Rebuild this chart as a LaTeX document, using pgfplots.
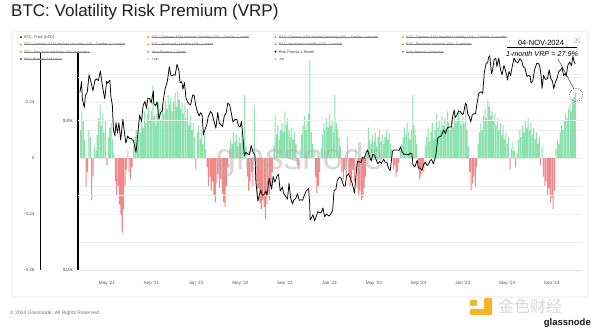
\documentclass[border=0pt]{standalone}
\usepackage{pgfplots}
\pgfplotsset{compat=1.18}
\usepackage{pgfplotstable}
\usepackage{fontspec}
\setmainfont{Liberation Sans}
\newfontfamily\cjk{Noto Sans CJK SC}
\definecolor{vgreen}{RGB}{120,222,160}
\definecolor{vred}{RGB}{238,118,118}
\definecolor{lorange}{RGB}{236,142,48}
\definecolor{lteal}{RGB}{38,166,180}
\definecolor{lmag}{RGB}{140,30,78}
\definecolor{lpos}{RGB}{150,232,185}
\definecolor{lneg}{RGB}{245,160,165}
\definecolor{jyellow}{RGB}{242,180,40}
\newlength\lgw
\newcommand{\lgon}[1]{\makebox[118pt][l]{\rule[-1.5pt]{0pt}{5.8pt}\textcolor{black!75}{#1}}}
\newcommand{\lgoff}[1]{\settowidth{\lgw}{#1}\makebox[118pt][l]{\rule[-1.5pt]{0pt}{5.8pt}\textcolor{black!50}{\rlap{\rule[1.25pt]{\lgw}{0.25pt}}#1}}}
\pgfplotsset{legdot/.style={legend image code/.code={\fill (1.1pt,0pt) circle (1.1pt);}, fill=#1, draw=none}}

\pgfplotstableread{
m v
1.625 0.12
1.75 0.20
1.875 0.16
2.0 0.08
2.125 -0.12
2.25 -0.06
2.375 0.12
2.5 0.09
2.625 -0.18
2.75 -0.08
2.875 0.05
3.0 0.03
3.125 0.10
3.25 0.17
3.375 0.23
3.5 0.14
3.625 0.19
3.75 0.11
3.875 0.16
4.0 -0.03
4.125 0.09
4.25 0.13
4.375 0.15
4.5 0.08
4.625 0.02
4.75 -0.10
4.875 -0.16
5.0 -0.12
5.125 -0.20
5.25 -0.24
5.375 -0.32
5.5 -0.22
5.625 -0.12
5.75 -0.05
5.875 0.03
6.0 -0.06
6.125 -0.09
6.25 -0.04
6.375 0.05
6.5 0.09
6.625 0.12
6.75 0.08
6.875 0.15
7.0 0.11
7.125 0.17
7.25 0.13
7.375 0.20
7.5 0.15
7.625 0.19
7.75 0.22
7.875 0.16
8.0 0.20
8.125 0.31
8.25 0.18
8.375 0.14
8.5 0.19
8.625 0.24
8.75 0.21
8.875 0.16
9.0 0.23
9.125 0.19
9.25 0.25
9.375 0.21
9.5 0.27
9.625 0.23
9.75 0.26
9.875 0.20
10.0 0.24
10.125 0.28
10.25 0.22
10.375 0.29
10.5 0.25
10.625 0.21
10.75 0.24
10.875 0.19
11.0 0.23
11.125 0.17
11.25 0.21
11.375 0.14
11.5 0.18
11.625 0.12
11.75 0.15
11.875 0.09
12.0 -0.05
12.125 0.11
12.25 0.14
12.375 0.08
12.5 0.12
12.625 0.06
12.75 0.10
12.875 0.04
13.0 -0.04
13.125 -0.12
13.25 -0.08
13.375 -0.14
13.5 -0.10
13.625 -0.16
13.75 -0.19
13.875 -0.11
14.0 -0.07
14.125 -0.13
14.25 -0.09
14.375 -0.15
14.5 -0.19
14.625 -0.21
14.75 -0.12
14.875 -0.04
15.0 0.04
15.125 0.08
15.25 0.06
15.375 0.11
15.5 0.07
15.625 0.10
15.75 0.05
15.875 0.09
16.0 0.06
16.125 0.11
16.25 0.08
16.375 0.27
16.5 0.05
16.625 -0.08
16.75 -0.14
16.875 -0.10
17.0 -0.06
17.125 -0.12
17.25 0.22
17.375 -0.10
17.5 -0.16
17.625 -0.13
17.75 -0.19
17.875 -0.22
18.0 -0.18
18.125 -0.21
18.25 -0.26
18.375 -0.20
18.5 -0.15
18.625 -0.18
18.75 -0.12
18.875 -0.06
19.0 0.05
19.125 0.18
19.25 0.10
19.375 0.14
19.5 0.08
19.625 0.12
19.75 0.15
19.875 0.11
20.0 0.20
20.125 0.14
20.25 0.17
20.375 0.12
20.5 0.09
20.625 0.13
20.75 0.08
20.875 0.11
21.0 0.06
21.125 -0.03
21.25 -0.05
21.375 0.04
21.5 0.10
21.625 0.14
21.75 0.18
21.875 0.12
22.0 0.16
22.125 0.19
22.25 0.42
22.375 0.11
22.5 0.06
22.625 0.03
22.75 -0.08
22.875 -0.15
23.0 -0.12
23.125 -0.06
23.25 0.04
23.375 0.10
23.5 0.15
23.625 0.12
23.75 0.17
23.875 0.13
24.0 0.19
24.125 0.14
24.25 0.16
24.375 0.11
24.5 0.27
24.625 0.15
24.75 0.12
24.875 0.09
25.0 0.05
25.125 -0.06
25.25 -0.09
25.375 -0.05
25.5 -0.08
25.625 0.09
25.75 -0.07
25.875 -0.12
26.0 -0.09
26.125 -0.05
26.25 -0.10
26.375 0.04
26.5 -0.13
26.625 -0.16
26.75 -0.14
26.875 -0.18
27.0 -0.17
27.125 -0.13
27.25 -0.08
27.375 0.03
27.5 0.13
27.625 0.08
27.75 0.06
27.875 0.10
28.0 0.07
28.125 0.11
28.25 0.05
28.375 0.09
28.5 0.12
28.625 0.07
28.75 0.10
28.875 0.06
29.0 0.09
29.125 0.12
29.25 0.08
29.375 0.11
29.5 0.06
29.625 0.04
29.75 -0.05
29.875 -0.03
30.0 -0.08
30.125 -0.06
30.25 -0.02
30.375 0.03
30.5 0.06
30.625 0.09
30.75 0.13
30.875 0.10
31.0 0.15
31.125 0.11
31.25 0.08
31.375 0.12
31.5 0.27
31.625 0.14
31.75 0.10
31.875 0.06
32.0 -0.05
32.125 -0.09
32.25 -0.07
32.375 -0.04
32.5 -0.06
32.625 0.05
32.75 0.09
32.875 0.13
33.0 0.07
33.125 0.11
33.25 0.15
33.375 0.08
33.5 0.12
33.625 0.19
33.75 0.13
33.875 0.16
34.0 0.12
34.125 0.18
34.25 0.14
34.375 0.17
34.5 0.13
34.625 0.20
34.75 0.15
34.875 0.12
35.0 0.16
35.125 0.13
35.25 0.19
35.375 0.15
35.5 0.17
35.625 0.21
35.75 0.16
35.875 0.14
36.0 0.18
36.125 0.15
36.25 0.24
36.375 0.12
36.5 0.05
36.625 -0.06
36.75 -0.14
36.875 -0.11
37.0 -0.08
37.125 -0.12
37.25 -0.04
37.375 0.06
37.5 0.11
37.625 0.15
37.75 0.12
37.875 0.18
38.0 0.21
38.125 0.17
38.25 0.25
38.375 0.22
38.5 0.18
38.625 0.20
38.75 0.16
38.875 0.19
39.0 0.14
39.125 0.17
39.25 0.12
39.375 0.15
39.5 0.10
39.625 0.14
39.75 0.08
39.875 0.11
40.0 0.06
40.125 0.09
40.25 -0.05
40.375 0.04
40.5 0.07
40.625 0.03
40.75 -0.04
40.875 0.02
41.0 0.08
41.125 0.12
41.25 0.09
41.375 0.14
41.5 0.11
41.625 0.16
41.75 0.13
41.875 0.17
42.0 0.12
42.125 0.15
42.25 0.10
42.375 0.13
42.5 0.08
42.625 0.11
42.75 0.06
42.875 0.09
43.0 -0.03
43.125 0.05
43.25 -0.08
43.375 -0.12
43.5 -0.10
43.625 -0.16
43.75 -0.13
43.875 -0.19
44.0 -0.17
44.125 -0.22
44.25 -0.14
44.375 0.04
44.5 0.08
44.625 0.06
44.75 0.11
44.875 0.14
45.0 0.12
45.125 0.16
45.25 0.19
45.375 0.17
45.5 0.21
45.625 0.23
45.75 0.20
45.875 0.24
46.0 0.26
46.125 0.279
}\vrpdata

\pgfplotstableread{
m p
1.57 52000
1.71 57500
1.79 48800
1.96 45200
2.06 50500
2.23 52300
2.39 61200
2.55 57600
2.74 52800
2.90 57700
3.03 59000
3.23 58100
3.40 63500
3.57 56200
3.70 51700
3.80 49000
3.97 57700
4.06 56600
4.26 58200
4.35 50000
4.48 46400
4.58 36800
4.71 34700
4.81 39300
4.94 35600
5.07 39200
5.23 33400
5.43 40500
5.57 35800
5.70 32500
5.87 34700
6.03 33800
6.19 33900
6.39 33100
6.61 29800
6.77 35400
6.94 42200
7.10 39700
7.26 46300
7.42 47800
7.55 44800
7.68 49300
7.84 49100
7.97 47100
8.17 52700
8.20 46900
8.37 46000
8.50 47700
8.67 40700
8.83 43200
8.97 43800
9.06 48200
9.23 53900
9.42 57400
9.61 66000
9.74 61000
9.87 60600
9.97 61300
10.13 61000
10.30 67500
10.47 63600
10.57 56900
10.73 57500
10.83 53600
10.97 57000
11.10 49400
11.26 47600
11.39 46700
11.52 46200
11.71 50800
11.84 50600
11.97 46300
12.13 43500
12.29 41800
12.42 43100
12.55 42300
12.68 35100
12.81 36800
12.97 38500
13.11 41600
13.32 43600
13.46 42600
13.61 40000
13.79 37300
13.96 43200
14.10 39100
14.23 38700
14.39 37800
14.55 41800
14.71 42900
14.87 47100
15.03 46400
15.17 43200
15.33 39500
15.50 40400
15.67 40500
15.83 38100
15.97 37700
16.10 39700
16.23 34100
16.35 28900
16.48 29800
16.65 29400
16.81 29200
16.97 31800
17.13 29900
17.30 29100
17.40 22500
17.57 19000
17.70 20000
17.83 21000
17.97 19900
18.13 20200
18.29 20800
18.39 20000
18.58 23400
18.81 21200
18.94 23800
19.10 22600
19.29 23900
19.42 24300
19.58 20800
19.77 21600
19.90 20300
20.07 19800
20.23 19300
20.37 22400
20.50 19700
20.67 18500
20.83 19200
20.97 19400
21.13 20300
21.29 19100
21.42 19200
21.58 19100
21.77 20100
21.90 20800
22.13 21300
22.23 18500
22.27 15900
22.40 16300
22.53 16700
22.67 15800
22.83 16500
22.97 17200
23.13 17000
23.29 17100
23.42 17800
23.58 16400
23.74 16800
23.97 16500
24.13 16800
24.29 17400
24.42 20900
24.58 21100
24.71 22900
24.90 23700
25.07 23400
25.29 21800
25.43 21800
25.54 23900
25.71 24400
25.89 23500
26.06 22300
26.26 20400
26.39 24100
26.52 27400
26.68 27300
26.84 27100
26.97 28500
27.13 28200
27.30 29700
27.43 30500
27.60 28800
27.77 27500
27.90 29300
28.06 29000
28.23 27700
28.35 26800
28.52 27400
28.68 26900
28.87 28000
29.03 27200
29.17 27200
29.30 25900
29.47 25100
29.67 30000
29.80 30500
29.97 30500
30.13 30500
30.29 30400
30.39 31400
30.55 29900
30.74 29200
30.94 29300
31.10 29100
31.26 29600
31.42 29400
31.52 26600
31.68 26000
31.90 27700
32.00 25800
32.17 25800
32.33 25200
32.47 26600
32.63 27200
32.80 26300
32.97 27000
33.03 27500
33.19 27900
33.35 26800
33.52 28400
33.61 29700
33.74 34000
33.90 34500
34.07 34700
34.27 36700
34.43 35500
34.63 37500
34.80 37700
34.97 37700
35.10 41900
35.23 44200
35.32 41200
35.48 42200
35.61 43700
35.77 43600
35.97 42300
36.06 42800
36.23 46900
36.32 46600
36.45 42500
36.58 41600
36.71 39500
36.84 42100
36.97 42600
37.14 42700
37.28 47100
37.45 51800
37.66 52300
37.79 51600
37.93 62500
38.10 68300
38.23 68300
38.32 72100
38.42 73100
38.58 61900
38.68 64000
38.81 70600
38.97 71300
39.07 66000
39.23 71600
39.40 64000
39.53 61300
39.70 66800
39.83 63800
39.97 60600
40.00 58300
40.16 63200
40.29 60800
40.45 66300
40.61 71400
40.77 69300
40.94 68400
41.13 71100
41.30 69500
41.43 66000
41.60 65000
41.77 60300
41.93 60900
42.06 60200
42.13 56700
42.29 57800
42.45 64100
42.65 68200
42.81 67900
42.90 66800
43.03 61400
43.13 54000
43.26 60900
43.42 58700
43.61 59000
43.77 64200
43.90 59400
44.07 57500
44.17 53900
44.33 57300
44.47 59100
44.63 63200
44.80 64100
44.93 65600
45.06 60700
45.23 62200
45.29 60300
45.45 67000
45.61 69000
45.77 66600
45.90 72700
46.00 69500
46.10 67800
}\pricedata

\begin{document}
\begin{tikzpicture}
\useasboundingbox (0,0) rectangle (600pt,329pt);
\fill[white] (0,0) rectangle (600pt,329pt);
% panel
\draw[gray!20, line width=0.6pt, rounded corners=3pt] (12pt,32pt) rectangle (588pt,297.3pt);
% title
\node[anchor=base west, font=\fontsize{17}{20}\selectfont, text=black!88, inner sep=0pt] at (11pt,312pt) {BTC: Volatility Risk Premium (VRP)};

% VRP axis (bars)
\begin{axis}[
  scale only axis, width=504pt, height=217pt,
  at={(78pt,59pt)}, anchor=south west,
  xmin=1.3939, xmax=46.7176,
  ymin=-0.48, ymax=0.45,
  axis x line=none, axis y line*=left,
  y axis line style={-, line width=0.6pt, black, xshift=-38pt},
  ytick={-0.48,-0.24,0,0.24}, yticklabels={-0.48,-0.24,0,0.24},
  minor ytick={-0.36,-0.12,0.12,0.36},
  ymajorgrids, yminorgrids,
  major grid style={gray!13, line width=0.4pt},
  minor grid style={gray!13, line width=0.4pt},
  major tick length=0pt, minor tick length=0pt,
  yticklabel style={font=\fontsize{4.6}{5}\selectfont, text=black!65, xshift=-40pt},
]
\addplot[ybar, bar width=1.05pt, bar shift=0pt, draw=none, fill=vgreen, fill opacity=0.85, restrict y to domain=0:1] table[x=m,y=v]{\vrpdata};
\addplot[ybar, bar width=1.05pt, bar shift=0pt, draw=none, fill=vred, fill opacity=0.85, restrict y to domain=-1:0] table[x=m,y=v]{\vrpdata};
\end{axis}

% watermark
\node[anchor=base, font=\fontsize{37}{40}\selectfont, text=gray!60, opacity=0.5, inner sep=0pt] at (300pt,159pt) {glassnode};

% price axis
\begin{axis}[
  scale only axis, width=504pt, height=217pt,
  at={(78pt,59pt)}, anchor=south west,
  xmin=1.3939, xmax=46.7176,
  ymode=log, ymin=10000, ymax=75000,
  axis x line*=bottom, axis y line*=left,
  x axis line style={-, gray!22, line width=0.4pt},
  y axis line style={-, line width=1.1pt, black},
  ytick={10000,40000}, yticklabels={\$10k,\$40k},
  extra y ticks={20000,40000,60000}, extra y tick labels={},
  extra y tick style={ymajorgrids=true, major grid style={gray!13, line width=0.4pt}},
  xtick={4,8,12,16,20,24,28,32,36,40,44},
  xticklabels={May '21,Sep '21,Jan '22,May '22,Sep '22,Jan '23,May '23,Sep '23,Jan '24,May '24,Sep '24},
  major tick length=0pt,
  yticklabel style={font=\fontsize{4.6}{5}\selectfont, text=black!65, xshift=-1.5pt},
  xticklabel style={font=\fontsize{4.6}{5}\selectfont, text=black!65, yshift=-8pt},
  legend columns=4,
  legend cell align=left,
  legend style={at={(-0.1153,1.0899)}, anchor=north west, draw=none, fill=none,
    inner sep=0pt, outer sep=0pt, row sep=0pt,
    font=\fontsize{3.8}{4.5}\selectfont,
    nodes={inner sep=0.75pt},
    /tikz/every odd column/.append style={column sep=1.5pt},
    /tikz/every even column/.append style={column sep=4.1pt}},
]
\addplot[black, line width=0.75pt, line join=round, forget plot] table[x=m,y=p]{\pricedata};
\addlegendimage{legdot=black}
\addlegendentry{\lgon{BTC: Price [USD]}}
\addlegendimage{legdot=lorange}
\addlegendentry{\lgoff{BTC: Options ATM Implied Volatility (All) -- Deribit: 1 week}}
\addlegendimage{legdot=lorange}
\addlegendentry{\lgoff{BTC: Options ATM Implied Volatility (All) -- Deribit: 1 month}}
\addlegendimage{legdot=lorange}
\addlegendentry{\lgoff{BTC: Options ATM Implied Volatility (All) -- Deribit: 3 months}}
\addlegendimage{legdot=lorange}
\addlegendentry{\lgoff{BTC: Options ATM Implied Volatility (All) -- Deribit: 6 months}}
\addlegendimage{legdot=lorange}
\addlegendentry{\lgoff{BTC: Realized Volatility (All): 1 week}}
\addlegendimage{legdot=lorange}
\addlegendentry{\lgoff{BTC: Realized Volatility (All): 1 month}}
\addlegendimage{legdot=lorange}
\addlegendentry{\lgoff{BTC: Realized Volatility (All): 3 months}}
\addlegendimage{legdot=lorange}
\addlegendentry{\lgoff{BTC: Realized Volatility (All): 6 months}}
\addlegendimage{legdot=lorange}
\addlegendentry{\lgoff{Risk Premia 1-Week}}
\addlegendimage{legdot=black}
\addlegendentry{\lgon{Risk Premia 1-Month}}
\addlegendimage{legdot=lteal}
\addlegendentry{\lgoff{Risk Premia 3-Months}}
\addlegendimage{legdot=lmag}
\addlegendentry{\lgoff{Risk Premia 6-Months}}
\addlegendimage{legdot=lpos}
\addlegendentry{\lgon{+ve}}
\addlegendimage{legdot=lneg}
\addlegendentry{\lgon{-ve}}
\end{axis}

% annotation
\node[anchor=base, font=\fontsize{7.5}{8}\selectfont, inner sep=0pt] at (541pt,283pt) {04-NOV-2024};
\draw[black, line width=0.5pt] (507pt,281.3pt) -- (577pt,281.3pt);
\node[anchor=base, font=\fontsize{7.2}{8}\selectfont\itshape, inner sep=0pt] at (542pt,272.5pt) {1-month VRP = 27.9\%};
\draw[black!80, line width=0.45pt] (558pt,270pt) -- (574pt,240pt);
\draw[black!70, line width=0.5pt, dash pattern=on 1.2pt off 1.2pt] (576pt,234pt) circle (6.5pt);
% camera icon
\draw[gray!70, line width=0.4pt, rounded corners=0.5pt] (574pt,286.5pt) rectangle (580pt,291pt);
\draw[gray!70, line width=0.4pt] (577pt,288.7pt) circle (1.1pt);

% footer
\node[anchor=base west, font=\fontsize{5}{6}\selectfont, text=black!55, inner sep=0pt] at (10pt,14pt) {\textcopyright{} 2024 Glassnode. All Rights Reserved.};
% jinse watermark
\fill[jyellow, rounded corners=1pt] (484pt,14pt) rectangle (492pt,31pt);
\fill[jyellow, rounded corners=1pt] (470pt,14pt) rectangle (492pt,20pt);
\fill[jyellow, rounded corners=1pt] (470pt,23pt) rectangle (477pt,29pt);
\node[anchor=base west, font=\cjk\fontsize{16}{18}\selectfont, text=gray!30, inner sep=0pt] at (498pt,16pt) {金色财经};
\node[anchor=base east, font=\fontsize{9.5}{10}\selectfont\bfseries, text=black!90, inner sep=0pt] at (591pt,3.5pt) {glassnode};
\end{tikzpicture}
\end{document}
